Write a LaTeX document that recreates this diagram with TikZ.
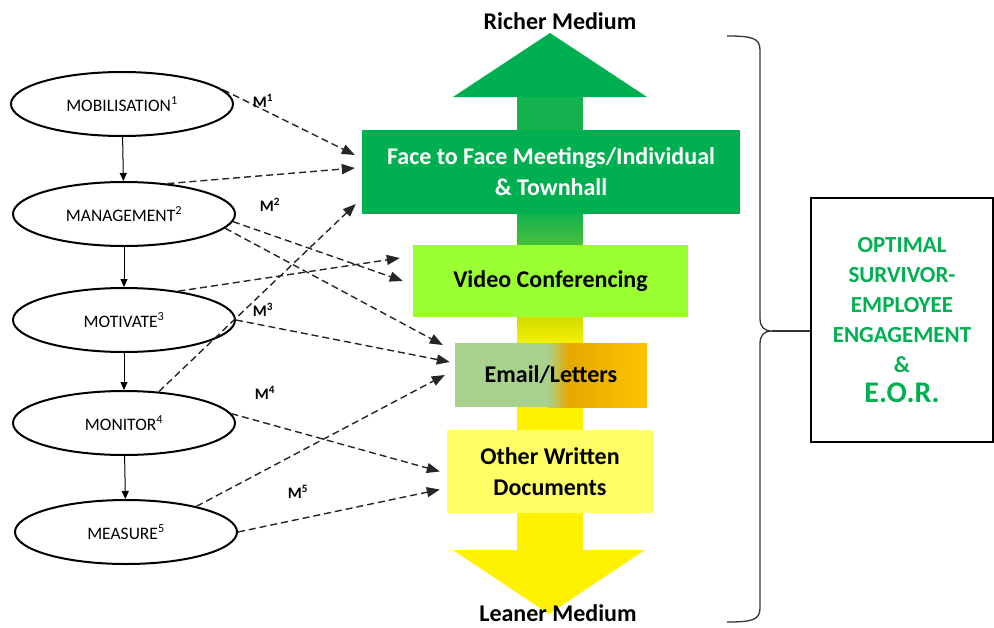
\documentclass[tikz,border=0pt]{standalone}
\usepackage{fontspec}
\setmainfont{Carlito}
\usetikzlibrary{shapes.geometric,arrows.meta}
\definecolor{exgreen}{HTML}{00B050}
\definecolor{shaftgreen}{HTML}{14B24F}
\definecolor{shaftmid}{HTML}{4CBF3C}
\definecolor{shaftlime}{HTML}{D2DC00}
\definecolor{shaftyel}{HTML}{F4F200}
\definecolor{videofill}{HTML}{99FF33}
\definecolor{emgreen}{HTML}{A9D18E}
\definecolor{emorange}{HTML}{E6A800}
\definecolor{emgold}{HTML}{FFC400}
\definecolor{otherfill}{HTML}{FFFF66}
\definecolor{bracegrey}{HTML}{333333}
\begin{document}
\begin{tikzpicture}[x=1pt,y=-1pt,
  stage/.style={ellipse, draw, line width=2pt, minimum width=222pt, minimum height=64pt,
    inner sep=0pt, font=\fontsize{17.5}{19}\selectfont},
  medbox/.style={rectangle, inner sep=0pt, align=center,
    font=\bfseries\fontsize{24}{31}\selectfont},
  flow/.style={-{Triangle[length=8pt,width=7pt]}, line width=1pt},
  link/.style={-{Triangle[length=13pt,width=10pt]}, dashed, dash pattern=on 7pt off 4pt,
    line width=1.4pt, black!85},
  mlabel/.style={font=\bfseries\fontsize{16}{18}\selectfont},
  sidelabel/.style={inner sep=0pt, font=\bfseries\fontsize{24}{26}\selectfont}]
\useasboundingbox (0,0) rectangle (994,627);

% --- stages of the model ---
\node[stage] (mob) at (122,104) {MOBILISATION\textsuperscript{1}};
\node[stage] (man) at (124,214) {MANAGEMENT\textsuperscript{2}};
\node[stage] (mot) at (124,320) {MOTIVATE\textsuperscript{3}};
\node[stage] (mon) at (124,423) {MONITOR\textsuperscript{4}};
\node[stage] (mea) at (126,532) {MEASURE\textsuperscript{5}};

\draw[flow] (mob) -- (man);
\draw[flow] (man) -- (mot);
\draw[flow] (mot) -- (mon);
\draw[flow] (mon) -- (mea);

% --- media richness arrow ---
\fill[shaftgreen] (517,96) rectangle (583,216);
\shade[top color=shaftgreen, bottom color=shaftmid] (517,214) rectangle (583,246);
\fill[shaftmid] (517,245) rectangle (583,318);
\shade[top color=shaftlime, bottom color=shaftyel] (517,317) rectangle (583,344);
\fill[yellow] (517,343) rectangle (583,551);
\fill[exgreen] (453,97) -- (550,33) -- (647,97) -- cycle;
\fill[yellow] (453,550) -- (549,614) -- (645,550) -- cycle;

\node[sidelabel] (rich) at (560,21) {Richer Medium};
\node[sidelabel] (lean) at (558,613) {Leaner Medium};

\node[medbox, fill=exgreen, text=white, minimum width=378pt, minimum height=84pt]
  (face) at (551,172) {Face to Face Meetings/Individual\\\& Townhall};
\node[medbox, fill=videofill, minimum width=275pt, minimum height=72pt]
  (video) at (550.5,281) {Video Conferencing};
\node[medbox, minimum width=192pt, minimum height=64pt,
  path picture={
    \fill[emgreen] (path picture bounding box.south west)
      rectangle ([xshift=-3pt]path picture bounding box.north);
    \shade[left color=emgreen, right color=emorange]
      ([xshift=-3.5pt]path picture bounding box.south)
      rectangle ([xshift=18pt]path picture bounding box.north);
    \shade[left color=emorange, right color=emgold]
      ([xshift=17.5pt]path picture bounding box.south)
      rectangle (path picture bounding box.north east);
  }]
  (email) at (551,375) {Email/Letters};
\node[medbox, fill=otherfill, minimum width=206pt, minimum height=83pt]
  (other) at (550,471.5) {Other Written\\Documents};

% --- links from stages to media ---
\draw[link] (mob.8) -- ([xshift=-7pt,yshift=17pt]face.west);
\draw[link] (man.35) -- ([xshift=-7pt,yshift=4pt]face.west);
\draw[link] (man.-4) -- ([xshift=-10pt]video.west);
\draw[link] (man.-8) -- ([xshift=-12pt,yshift=30pt]email.west);
\draw[link] (mot.28) -- ([xshift=-13pt,yshift=23pt]video.west);
\draw[link] (mot.east) -- ([xshift=-5pt,yshift=13pt]email.west);
\draw[link] (mon.42) -- ([xshift=-6pt,yshift=-32pt]face.west);
\draw[link] (mon.5) -- ([xshift=-7pt]other.west);
\draw[link] (mea.20) -- ([xshift=-10pt]email.west);
\draw[link] (mea.0) -- ([xshift=-7pt,yshift=-18pt]other.west);

\node[mlabel] (m1) at (263,101) {M\textsuperscript{1}};
\node[mlabel] (m2) at (270,205) {M\textsuperscript{2}};
\node[mlabel] (m3) at (263,310) {M\textsuperscript{3}};
\node[mlabel] (m4) at (265,393) {M\textsuperscript{4}};
\node[mlabel] (m5) at (298,492) {M\textsuperscript{5}};

% --- outcome box and brace ---
\node[rectangle, draw, line width=2.2pt, minimum width=182pt, minimum height=244pt,
  align=center, text=exgreen, font=\bfseries\fontsize{23}{30}\selectfont]
  (outcome) at (902,320)
  {OPTIMAL\\SURVIVOR-\\EMPLOYEE\\ENGAGEMENT\\\&\\{\fontsize{30}{34}\selectfont E.O.R.}};

\coordinate (tip) at (772,331);
\draw[bracegrey, line width=1.3pt]
  (727,36) .. controls (752,36) and (760,38) .. (760,50)
  -- (760,318) .. controls (760,327) and (764,331) .. (tip)
  .. controls (764,331) and (760,335) .. (760,344)
  -- (760,608) .. controls (760,620) and (752,622) .. (727,622);
\draw[bracegrey, line width=1.3pt] (tip) -- (outcome.west |- tip);
\end{tikzpicture}
\end{document}
